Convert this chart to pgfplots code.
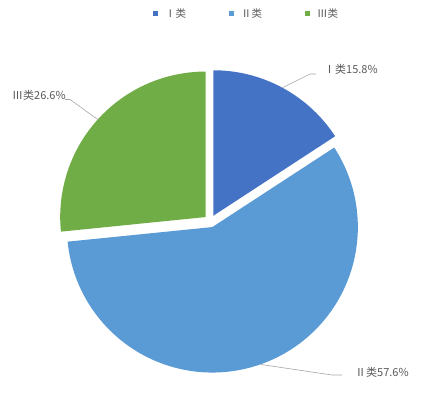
\documentclass[border=0pt]{standalone}
\usepackage{pgfplots}
\pgfplotsset{compat=1.18}
\usepackage{fontspec}
\setmainfont{Noto Sans CJK SC}
\definecolor{cI}{RGB}{68,114,196}
\definecolor{cII}{RGB}{91,155,213}
\definecolor{cIII}{RGB}{112,173,71}
\definecolor{txt}{RGB}{89,89,89}
\definecolor{lead}{RGB}{166,166,166}
% data (percent)
\def\vI{15.8}
\def\vII{57.6}
\def\vIII{26.6}
% geometry (pixels of the 424x392 canvas)
\def\Cx{210.3}\def\Cy{221.2}\def\D{6.2}\def\R{145.5}
\pgfmathsetmacro\aI{0}
\pgfmathsetmacro\bI{3.6*\vI}
\pgfmathsetmacro\aII{\bI}
\pgfmathsetmacro\bII{\aII+3.6*\vII}
\pgfmathsetmacro\aIII{\bII}
\pgfmathsetmacro\bIII{\aIII+3.6*\vIII}
\pgfmathsetmacro\mI{(\aI+\bI)/2}
\pgfmathsetmacro\mII{(\aII+\bII)/2}
\pgfmathsetmacro\mIII{(\aIII+\bIII)/2}
\pgfmathsetmacro\cxI{\Cx+\D*sin(\mI)}\pgfmathsetmacro\cyI{\Cy-\D*cos(\mI)}
\pgfmathsetmacro\cxII{\Cx+\D*sin(\mII)}\pgfmathsetmacro\cyII{\Cy-\D*cos(\mII)}
\pgfmathsetmacro\cxIII{\Cx+\D*sin(\mIII)}\pgfmathsetmacro\cyIII{\Cy-\D*cos(\mIII)}
\newcommand\legbox[1]{\makebox[71.5pt][l]{\hspace{7.5pt}#1}}
\begin{document}
\begin{tikzpicture}
\begin{axis}[
  width=424pt, height=392pt, scale only axis,
  xmin=0, xmax=424, ymin=0, ymax=392, y dir=reverse,
  hide axis, clip=false,
  legend columns=3,
  legend style={at={(axis cs:153,13.5)}, anchor=west, draw=none, fill=none,
    font=\fontsize{10.5}{12}\selectfont, text=txt, inner sep=0pt,
    nodes={inner sep=0pt}, /tikz/column sep=0pt},
  legend image code/.code={\fill[#1] (0pt,-2pt) rectangle (4.5pt,2.5pt);},
]
\path[draw=none] (rel axis cs:0,0) rectangle (rel axis cs:1,1);
\addplot[fill=cI, draw=none, domain=\aI:\bI, samples=90, variable=\t]
  ({\cxI+\R*sin(\t)},{\cyI-\R*cos(\t)}) -- (axis cs:\cxI,\cyI) -- cycle;
\addlegendentry{\legbox{Ⅰ类}}
\addplot[fill=cII, draw=none, domain=\aII:\bII, samples=200, variable=\t]
  ({\cxII+\R*sin(\t)},{\cyII-\R*cos(\t)}) -- (axis cs:\cxII,\cyII) -- cycle;
\addlegendentry{\legbox{Ⅱ类}}
\addplot[fill=cIII, draw=none, domain=\aIII:\bIII, samples=120, variable=\t]
  ({\cxIII+\R*sin(\t)},{\cyIII-\R*cos(\t)}) -- (axis cs:\cxIII,\cyIII) -- cycle;
\addlegendentry{\makebox[30pt][l]{\hspace{7.5pt}Ⅲ类}}
% leader lines
\addplot[lead, line width=0.6pt, forget plot] coordinates {(282.6,87.7) (310,74) (316,74)};
\addplot[lead, line width=0.6pt, forget plot] coordinates {(97.7,119.5) (70,99.5) (65,99.5)};
\addplot[lead, line width=0.6pt, forget plot] coordinates {(261,364.5) (332,375) (342,375)};
% labels
\node[anchor=west, inner sep=0pt, text=txt, font=\fontsize{11}{13}\selectfont] at (axis cs:324,69) {Ⅰ类15.8\%};
\node[anchor=west, inner sep=0pt, text=txt, font=\fontsize{11}{13}\selectfont] at (axis cs:12,95) {Ⅲ类26.6\%};
\node[anchor=west, inner sep=0pt, text=txt, font=\fontsize{11}{13}\selectfont] at (axis cs:355,372) {Ⅱ类57.6\%};
\end{axis}
\end{tikzpicture}
\end{document}
